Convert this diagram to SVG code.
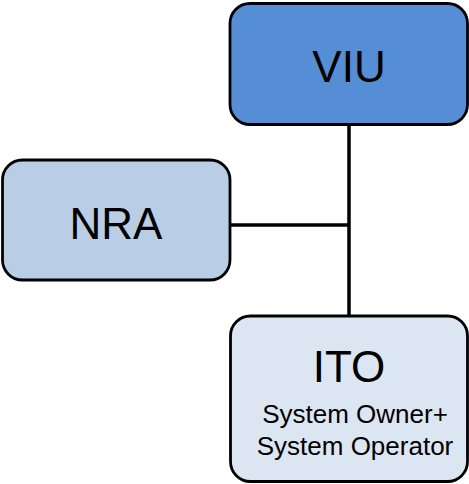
<svg xmlns="http://www.w3.org/2000/svg" width="469" height="484" viewBox="0 0 469 484">
<style>
.box{stroke:#000;stroke-width:2.8}
.big{font-family:"Liberation Sans",Arial,sans-serif;font-size:44px;text-anchor:middle;fill:#000}
.small{font-family:"Liberation Sans",Arial,sans-serif;font-size:26px;text-anchor:middle;fill:#000}
.conn{stroke:#000;stroke-width:3.5;fill:none}
</style>
<rect width="469" height="484" fill="#fff"/>
<g id="connectors">
<line class="conn" x1="349" y1="125" x2="349" y2="316"/>
<line class="conn" x1="230" y1="225" x2="349" y2="225"/>
</g>
<g id="VIU">
<rect class="box" x="230" y="3.5" width="237.5" height="121" rx="20" fill="#558ed5"/>
<text class="big" x="349" y="82">VIU</text>
</g>
<g id="NRA">
<rect class="box" x="2.5" y="160" width="227.5" height="120" rx="20" fill="#b9cde5"/>
<text class="big" x="116" y="239">NRA</text>
</g>
<g id="ITO">
<rect class="box" x="230.5" y="316" width="237" height="165.5" rx="20" fill="#dce6f2"/>
<text class="big" x="349" y="382">ITO</text>
<text class="small" x="355" y="423">System Owner+</text>
<text class="small" x="355" y="455">System Operator</text>
</g>
</svg>
